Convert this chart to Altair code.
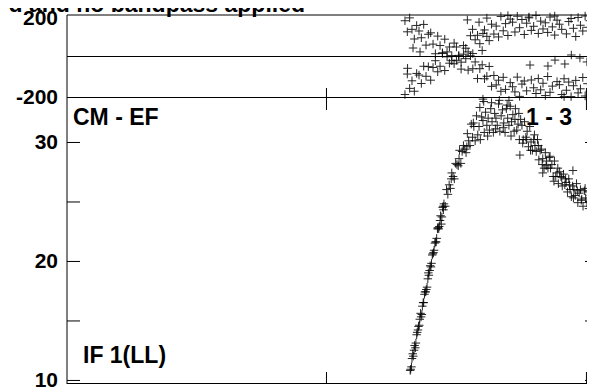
import altair as alt
import pandas as pd

# ---- data ----
phase_x = [1300,1309,1318,1327,1336,1345,1354,1363,1372,1381,1390,1399,1408,1417,1426,1435,
           1444,1453,1462,1471,1480,1489,1498,1507,1516,1525,1534,1543,1552,1561,1570,1579,
           1588,1597,1606,1615,1624,1633,1642,1651,1660,1669,1678,1687,1696,1705,1714,1723,
           1732,1741,1750,1759,1768,1777,1786,1795,1804,1813,1822,1831,1840,1849,1858,1867,
           1876,1885,1894,1903,1912,1921,1930,1939,1948,1957,1966,1975,1984,1993,2002,2011,2020]
phase_desc = [172,118,186,130,83,149,122,89,154,53,106,113,58,11,97,51,
              16,82,20,44,-23,63,-21,-1,-64,9,-13,-69,1,-62,-29,-110,
              -62,-43,-111,-99,-51,-148,-95,-141,-118,-172,-104,-163,197,-130,-150,-175,
              -103,-197,-137,-122,-170,190,-117,-155,-183,-110,-165,-133,-193,-100,-177,-147,
              195,-125,-140,-188,-111,-167,-127,-198,-145,-119,-180,-160,-105,-195,-135,-173,-143]
phase_asc = [-188,-88,-158,-121,-172,-85,-93,-134,-50,-99,-52,-118,-56,-23,-77,-50,
             12,-71,-4,-35,2,-38,44,3,-30,51,38,20,99,12,79,101,
             60,27,127,96,75,155,107,146,93,193,123,158,100,180,165,117,
             194,138,178,105,160,186,125,145,198,110,170,132,162,115,190,142,
             102,175,155,130,-198,108,168,183,135,95,188,150,122,195,140,172,112]
phase_extra_x = [1540,1560,1585,1600,1615,1850,1877,1915,1973,2000,1781,1940,1331,1358,1310]
phase_extra = [176,130,165,110,185,-49,-20,-39,-10,-29,-44,5,39,20,-60]

amp_x = [1320,1325,1330,1335,1340,1345,1350,1355,1360,1365,1370,1375,1380,1385,1390,1395,
         1400,1405,1410,1415,1420,1425,1430,1435,1440,1445,1450,1455,1460,1465,1470,1475,
         1480,1485,1490,1495,1500,1505,1510,1515,1520,1525,1530,1535,1540,1545,1550,1555,
         1560,1565,1570,1575,1580,1585,1590,1595,1600,1605,1610,1615,1620,1625,1630,1635,
         1640,1645,1650,1655,1660,1665,1670,1675,1680,1685,1690,1695,1700,1705,1710,1715,
         1720,1725,1730,1735,1740,1745,1750,1755,1760,1765,1770,1775,1780,1785,1790,1795,
         1800,1805,1810,1815,1820,1825,1830,1835,1840,1845,1850,1855,1860,1865,1870,1875,
         1880,1885,1890,1895,1900,1905,1910,1915,1920,1925,1930,1935,1940,1945,1950,1955,
         1960,1965,1970,1975,1980,1985,1990,1995,2000,2005,2010,2015,2020,2025,2030]
amp = [10.8,11.1,12.2,12.5,12.7,13.8,14.2,14.6,15.6,15.5,16.5,17.2,17.4,17.8,19.0,19.2,
       19.5,20.5,20.7,21.5,21.6,22.7,22.7,23.4,23.1,24.5,24.8,24.6,26.0,25.6,26.4,26.1,
       27.4,27.1,26.9,28.2,28.1,28.0,29.3,28.2,29.2,29.7,29.4,29.1,30.7,30.1,29.7,31.5,
       30.4,31.3,30.1,32.2,30.6,31.3,30.2,32.1,31.8,30.8,32.5,31.4,32.0,31.0,32.8,31.7,
       30.8,32.4,32.0,31.4,33.2,30.9,32.2,32.7,31.6,30.8,32.8,32.0,31.4,33.0,31.7,32.3,
       30.9,32.8,31.0,31.5,30.2,31.9,31.4,30.2,31.7,30.4,30.9,29.6,31.3,30.0,29.3,30.2,
       29.7,29.2,30.2,28.5,29.3,29.4,28.6,27.8,29.1,28.4,27.8,28.7,27.8,28.1,27.1,28.4,
       27.1,27.4,26.5,27.5,27.1,26.3,27.3,26.4,26.6,25.8,26.9,26.0,25.4,26.3,26.0,25.5,
       26.5,24.9,25.7,26.0,25.2,24.6,25.9,25.3,24.9,25.8,25.0,25.5,24.5,25.9,24.8]
amp_extra_x = [1352,1388,1418,1448,1478,1508,1538,1563,1588,1603,1618,1633,1648,1663,1678,1693,
               1708,1723,1738,1753,1768,1783,1798,1813,1828,1843,1858,1873,1888,1903,1918,1933,
               1948,1963,1978,1993,2008,2023,1742,1946,1830,1600,1700,
               1322,1327,1332,1337,1342,1347,1357,1362,1367,1372,1377,1382,1392,1397,1402,1407,
               1412,1422,1427,1432,1437,1442,1447]
amp_extra = [14.5,18.5,21.6,24.3,26.9,28.6,29.6,31.6,32.9,33.4,30.5,33.3,31.1,33.5,31.2,33.1,
             30.5,31.9,32.4,29.9,30.2,29.3,30.6,29.7,28.1,28.0,28.8,26.7,27.8,27.0,26.9,26.4,
             25.3,25.9,25.1,26.1,24.4,25.4,28.9,27.6,27.4,33.6,33.5,
             10.9,11.8,12.0,12.9,13.1,14.0,15.1,15.3,16.2,16.5,17.4,17.6,18.8,19.6,19.8,20.6,
             20.9,21.9,22.8,22.9,23.8,23.7,24.6]

phase_lines = [0, -200]
phase_labels = ["200", "-200"]
amp_ticks = [10, 15, 20, 25, 30]
amp_labels = [10, 20, 30]
x_ticks = [1000, 2000]

# ---- layout constants ----
W, H, PH = 528, 369, 82
FONT = "Liberation Sans"
CROSS = "M -1 0 L 1 0 M 0 -1 L 0 1"

xs = alt.Scale(domain=[0, 2031], nice=False, zero=False)
yP = alt.Scale(domain=[-200, 200], range=[PH, 0], nice=False, zero=False)
yA = alt.Scale(domain=[9.66, 33.78], range=[H, PH], nice=False, zero=False)

phase_df = pd.DataFrame({
    "x": phase_x + phase_x + phase_extra_x,
    "p": phase_desc + phase_asc + phase_extra,
})
amp_df = pd.DataFrame({"x": amp_x + amp_extra_x, "a": amp + amp_extra})

X = lambda f: alt.X(f, scale=xs, axis=None)
YP = lambda f: alt.Y(f, scale=yP, axis=None)
YA = lambda f: alt.Y(f, scale=yA, axis=None)

pts_style = dict(shape=CROSS, filled=False, size=72, color="black", strokeWidth=1, opacity=0.85)

phase_pts = alt.Chart(phase_df).mark_point(**pts_style).encode(x=X("x:Q"), y=YP("p:Q"))
amp_pts = alt.Chart(amp_df).mark_point(**pts_style).encode(x=X("x:Q"), y=YA("a:Q"))

top_line = alt.Chart(pd.DataFrame({"p": [200]})).mark_rule(color="black").encode(
    y=YP("p:Q"), x=alt.value(0), x2=alt.value(W))
hlines = alt.Chart(pd.DataFrame({"p": phase_lines})).mark_rule(color="black", yOffset=0.5).encode(
    y=YP("p:Q"), x=alt.value(0), x2=alt.value(W))
left_axis = alt.Chart(pd.DataFrame({"p": [0]})).mark_rule(color="black").encode(
    x=alt.value(0), y=alt.value(0), y2=alt.value(H))
bottom_axis = alt.Chart(pd.DataFrame({"p": [0]})).mark_rule(color="black").encode(
    x=alt.value(0), x2=alt.value(W), y=alt.value(H - 0.5))

tick_df = pd.DataFrame({"a": amp_ticks})
left_ticks = alt.Chart(tick_df).mark_rule(color="black", yOffset=0.5).encode(
    y=YA("a:Q"), x=alt.value(0), x2=alt.value(13))
right_ticks = alt.Chart(tick_df).mark_rule(color="black", yOffset=0.5).encode(
    y=YA("a:Q"), x=alt.value(W - 10), x2=alt.value(W))

xt_df = pd.DataFrame({"x": x_ticks})
xt_bottom = alt.Chart(xt_df).mark_rule(color="black", xOffset=-0.5).encode(
    x=X("x:Q"), y=alt.value(H - 12), y2=alt.value(H))
xt_mid = alt.Chart(xt_df).mark_rule(color="black", xOffset=-0.5).encode(
    x=X("x:Q"), y=alt.value(PH - 9), y2=alt.value(PH + 13))

lab_style = dict(align="right", baseline="middle", fontSize=21, fontWeight="bold", font=FONT, color="black", dx=-9)
amp_lab = alt.Chart(pd.DataFrame({"a": amp_labels})).mark_text(dy=1.5, **lab_style).encode(
    y=YA("a:Q"), x=alt.value(0), text=alt.Text("a:Q", format="d"))
ph_top_lab = alt.Chart(pd.DataFrame({"p": [200], "t": [phase_labels[0]]})).mark_text(dy=4, **lab_style).encode(
    y=YP("p:Q"), x=alt.value(0), text="t:N")
ph_bot_lab = alt.Chart(pd.DataFrame({"p": [-200], "t": [phase_labels[1]]})).mark_text(dy=1, **lab_style).encode(
    y=YP("p:Q"), x=alt.value(0), text="t:N")

ann_style = dict(fontSize=23, fontWeight="bold", font=FONT, color="black", baseline="alphabetic")
ann_df = pd.DataFrame({"t": ["x"]})
cm = alt.Chart(ann_df).mark_text(align="left", text="CM - EF", **ann_style).encode(x=alt.value(6), y=alt.value(110))
ifl = alt.Chart(ann_df).mark_text(align="left", text="IF 1(LL)", **ann_style).encode(x=alt.value(16), y=alt.value(348))
bl = alt.Chart(ann_df).mark_text(align="right", text="1 - 3", **ann_style).encode(x=alt.value(505), y=alt.value(110))
title = alt.Chart(ann_df).mark_text(align="right", text="ed and no bandpass applied", **ann_style).encode(
    x=alt.value(238), y=alt.value(-3))

chart = alt.layer(
    phase_pts, amp_pts, top_line, hlines, left_axis, bottom_axis,
    left_ticks, right_ticks, xt_bottom, xt_mid,
    amp_lab, ph_top_lab, ph_bot_lab, cm, ifl, bl, title,
).resolve_scale(y="independent").properties(
    width=W, height=H,
    autosize=alt.AutoSizeParams(type="none"),
    padding={"left": 59, "top": 7, "right": -8, "bottom": 5},
).configure_view(stroke=None)

chart.save("out.html", embed_options={"renderer": "svg", "actions": False})
